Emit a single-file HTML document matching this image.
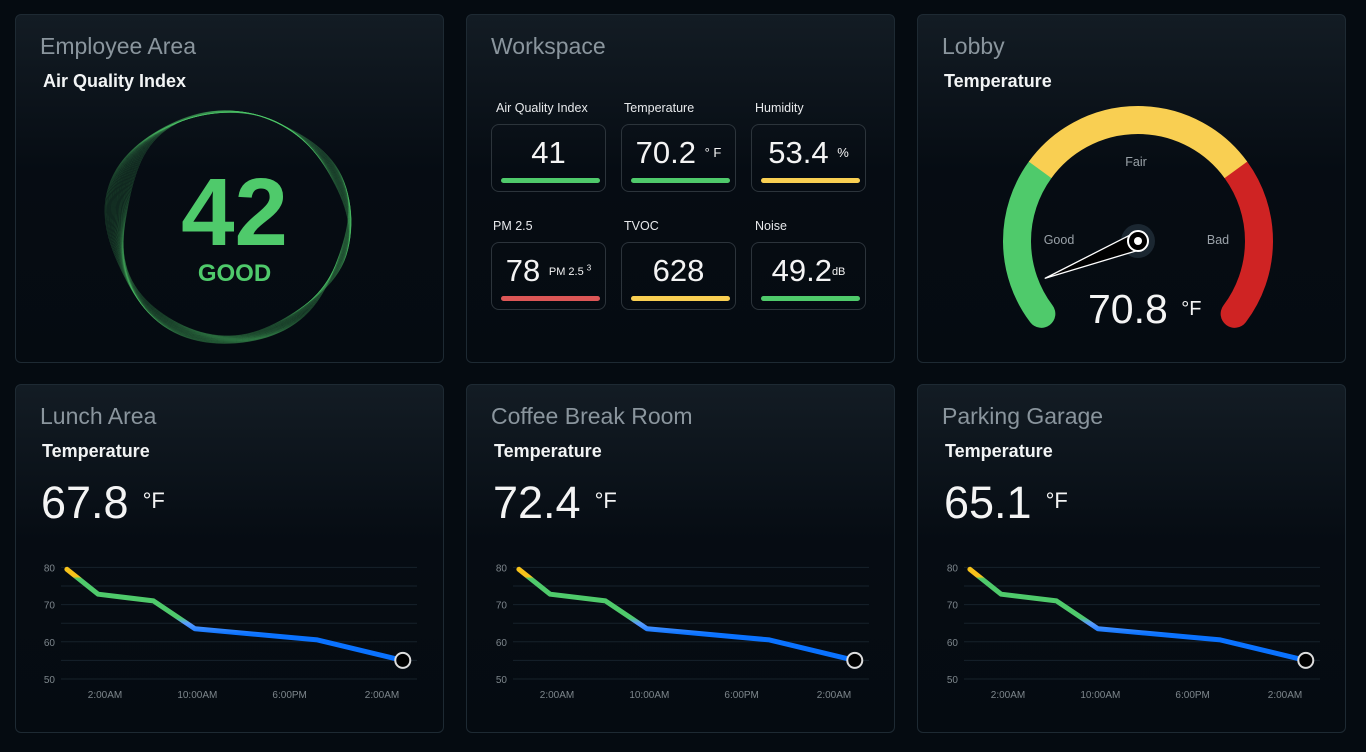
<!DOCTYPE html>
<html><head><meta charset="utf-8">
<style>
*{box-sizing:border-box;margin:0;padding:0}
body{width:1366px;height:752px;background:#050b11;font-family:"Liberation Sans",sans-serif;color:#fff;position:relative;overflow:hidden}
.card{position:absolute;width:429px;height:349px;border:1px solid #1e2a33;border-radius:6px;background:linear-gradient(#131c24,#060c13 45%,#050b11)}
.title{position:absolute;left:24px;top:18px;font-size:23px;color:#8a959d}
.sub{position:absolute;left:26px;top:56px;font-size:18px;font-weight:bold;color:#f2f4f5}
.tile-label{position:absolute;font-size:12.5px;color:#e8eaec}
.tile{position:absolute;width:115px;height:68px;border:1px solid #2c343b;border-radius:8px}
.tile .v{position:absolute;left:0;right:0;top:10px;text-align:center;font-size:31px;color:#f4f4f4}
.tile .u{font-size:13px;vertical-align:6px}
.tile .bar{position:absolute;left:9px;right:5px;bottom:8px;height:5px;border-radius:3px}
.big{position:absolute;left:25px;top:92px;font-size:45px;color:#f4f4f4}
.big span{font-size:22px;vertical-align:10px;margin-left:14px}
svg{position:absolute;left:0;top:0}
</style></head><body>
<div class="card" style="left:15px;top:14px">
 <div class="title">Employee Area</div>
 <div class="sub" style="left:27px">Air Quality Index</div>
 <svg width="429" height="349" id="ring"></svg>
 <div style="position:absolute;left:0;width:437px;top:150px;text-align:center;font-size:96px;font-weight:bold;color:#4fca6b;line-height:1">42</div>
 <div style="position:absolute;left:0;width:437px;top:245px;text-align:center;font-size:24px;font-weight:bold;color:#4fca6b">GOOD</div>
</div>

<div class="card" style="left:466px;top:14px">
 <div class="title">Workspace</div>
 <div class="tile-label" style="left:29px;top:86px">Air Quality Index</div>
 <div class="tile-label" style="left:157px;top:86px">Temperature</div>
 <div class="tile-label" style="left:288px;top:86px">Humidity</div>
 <div class="tile-label" style="left:26px;top:204px">PM 2.5</div>
 <div class="tile-label" style="left:157px;top:204px">TVOC</div>
 <div class="tile-label" style="left:288px;top:204px">Noise</div>
 <div class="tile" style="left:24px;top:109px"><div class="v">41</div><div class="bar" style="background:#4fca6b"></div></div>
 <div class="tile" style="left:154px;top:109px"><div class="v">70.2 <span class="u">° F</span></div><div class="bar" style="background:#4fca6b"></div></div>
 <div class="tile" style="left:284px;top:109px"><div class="v">53.4 <span class="u">%</span></div><div class="bar" style="background:#f9cf52"></div></div>
 <div class="tile" style="left:24px;top:227px"><div class="v">78 <span class="u" style="font-size:11px">PM 2.5 <sup style="font-size:8px">3</sup></span></div><div class="bar" style="background:#dc5656"></div></div>
 <div class="tile" style="left:154px;top:227px"><div class="v">628</div><div class="bar" style="background:#f9cf52"></div></div>
 <div class="tile" style="left:284px;top:227px"><div class="v">49.2<span class="u" style="font-size:11px">dB</span></div><div class="bar" style="background:#4fca6b"></div></div>
</div>

<div class="card" style="left:917px;top:14px">
 <div class="title">Lobby</div>
 <div class="sub">Temperature</div>
 <svg width="429" height="349" id="gauge"></svg>
 <div style="position:absolute;left:170px;top:271px;font-size:41px;color:#f4f4f4">70.8 <span style="font-size:20px;vertical-align:8px;margin-left:2px">°F</span></div>
</div>

<div class="card" style="left:15px;top:384px" id="c1">
 <div class="title">Lunch Area</div>
 <div class="sub">Temperature</div>
 <div class="big">67.8<span>°F</span></div>
</div>
<div class="card" style="left:466px;top:384px" id="c2">
 <div class="title">Coffee Break Room</div>
 <div class="sub" style="left:27px">Temperature</div>
 <div class="big" style="left:26px">72.4<span>°F</span></div>
</div>
<div class="card" style="left:917px;top:384px" id="c3">
 <div class="title">Parking Garage</div>
 <div class="sub" style="left:27px">Temperature</div>
 <div class="big" style="left:26px">65.1<span>°F</span></div>
</div>

<script>
// chart data
const hours = [-1.3, 1.4, 6.2, 9.8, 20.4, 27.8];
const temps = [79.5, 72.8, 71.0, 63.5, 60.5, 55.0];
const tickValues = [50, 60, 70, 80];
const tickHours = [2, 10, 18, 26];
const tickLabels = ["2:00AM", "10:00AM", "6:00PM", "2:00AM"];
const gaugeMin = 68, gaugeMax = 115, gaugeValue = 70.8;

const NS = "http://www.w3.org/2000/svg";
function mk(p, tag, at){const e=document.createElementNS(NS,tag);for(const k in at)e.setAttribute(k,at[k]);p.appendChild(e);return e;}

// ring
(function(){
 const s=document.getElementById('ring');const cx=214,cy=210;
 for(let i=0;i<30;i++){
  const t=i/29;let d='';
  for(let a=0;a<=360;a+=3){
   const th=a*Math.PI/180;
   const left=Math.max(0,-Math.cos(th-0.2));
   const bot=Math.max(0,Math.sin(th-0.3));
   const spread=2+12*left*left+5*bot;
   const r=114+3*Math.sin(3*th+1+t*2)+2*Math.sin(5*th+0.4+t*3)+(t-0.5)*spread;
   const x=cx+r*Math.cos(th)*1.02,y=cy+r*Math.sin(th);
   d+=(a?'L':'M')+x.toFixed(1)+','+y.toFixed(1);
  }
  const p=mk(s,'path',{d:d+'Z',fill:'none',stroke:'#4fca6b','stroke-opacity':0.3,'stroke-width':0.5});
  
  
 }
})();

// gauge
(function(){
 const s=document.getElementById('gauge');const cx=220,cy=226,r=121;
 const a0=217,span=254;
 function pt(deg){const th=(deg)*Math.PI/180;return [cx+r*Math.cos(th),cy-r*Math.sin(th)];}
 function arc(d1,d2,col,cap){const p1=pt(d1),p2=pt(d2);
  const e=mk(s,'path',{d:`M${p1[0]},${p1[1]}A${r},${r} 0 ${Math.abs(d1-d2)>180?1:0} 1 ${p2[0]},${p2[1]}`,fill:'none',stroke:col,'stroke-width':28,'stroke-linecap':cap});
  
  }
 arc(217,144,'#4fca6b','round');arc(36,-37,'#cf2323','round');arc(144,36,'#f9cf52','butt');
 [['Fair',218,151],['Good',141,229],['Bad',300,229]].forEach(l=>{const t=mk(s,'text',{x:l[1],y:l[2],'text-anchor':'middle','font-size':12.5,fill:'#9aa2a8','font-family':'Liberation Sans'});t.textContent=l[0];
  });
 const deg=a0-(gaugeValue-gaugeMin)/(gaugeMax-gaugeMin)*span;
 const th=deg*Math.PI/180,L=100,tx=cx+L*Math.cos(th),ty=cy-L*Math.sin(th);
 const nx=-Math.sin(th),ny=-Math.cos(th);
 mk(s,'circle',{cx,cy,r:17,fill:'#1b2731'});
 const n=mk(s,'path',{d:`M${cx+nx*9},${cy+ny*9}L${tx},${ty}L${cx-nx*9},${cy-ny*9}Z`,fill:'#000',stroke:'#fff','stroke-width':1.3,'stroke-linejoin':'round'});
 
 mk(s,'circle',{cx,cy,r:10,fill:'#000',stroke:'#fff','stroke-width':2});
 mk(s,'circle',{cx,cy,r:4,fill:'#fff'});
})();

// line charts
['c1','c2','c3'].forEach((id,ci)=>{
 const card=document.getElementById(id);
 const s=mk(card,'svg',{width:429,height:349});
 
 
 const ox=ci===0?0:1;
 const X=h=>89+ox+(h-2)*(277/24);
 const Y=v=>294-(v-50)*3.72;
 for(let v=50;v<=80;v+=5){const g=mk(s,'line',{x1:45+ox,x2:401+ox,y1:Y(v),y2:Y(v),stroke:'#17222b','stroke-width':1});
  }
 tickValues.forEach(v=>{const t=mk(s,'text',{x:39+ox,y:Y(v)+4,'text-anchor':'end','font-size':10,fill:'#7d868c'});t.textContent=v;
  });
 tickHours.forEach((h,i)=>{const t=mk(s,'text',{x:X(h),y:313,'text-anchor':'middle','font-size':10,fill:'#7d868c'});t.textContent=tickLabels[i];
  });
 const defs=mk(s,'defs',{});
 const lg=mk(defs,'linearGradient',{id:'lg'+ci,gradientUnits:'userSpaceOnUse',x1:0,x2:0,y1:Y(80),y2:Y(50)});
 [[Y(77.5),'#f6c21b'],[Y(77),'#4fca6b'],[Y(66.5),'#4fca6b'],[Y(65),'#5c9dff'],[Y(62),'#0a72ff']].forEach(st=>mk(lg,'stop',{offset:((st[0]-Y(80))/(Y(50)-Y(80))).toFixed(3),'stop-color':st[1]}));
 const d=hours.map((h,i)=>(i?'L':'M')+X(h).toFixed(1)+','+Y(temps[i]).toFixed(1)).join('');
 const p=mk(s,'path',{d,fill:'none',stroke:`url(#lg${ci})`,'stroke-width':5,'stroke-linejoin':'round','stroke-linecap':'round'});
 
 const n=hours.length-1;
 const c=mk(s,'circle',{cx:X(hours[n]),cy:Y(temps[n]),r:7.5,fill:'#000',stroke:'#ddd','stroke-width':2});
 
});
</script>
</body></html>
